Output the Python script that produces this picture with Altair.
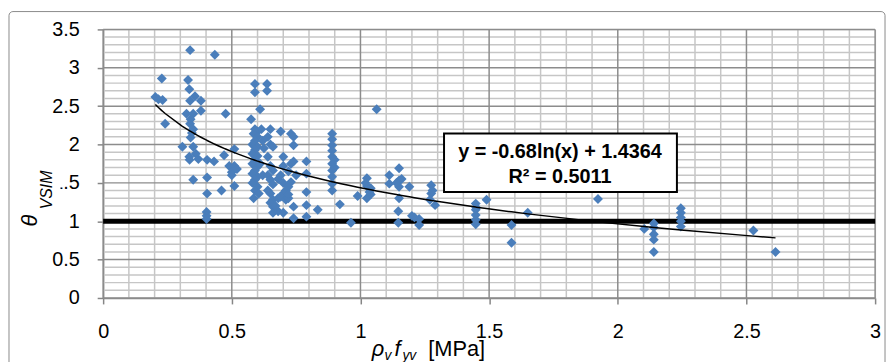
import altair as alt
import pandas as pd

# ---- data ----
X_VALS = [
    0.203, 0.215, 0.228, 0.231, 0.241,
    0.308, 0.324, 0.338, 0.330, 0.335, 0.338, 0.357, 0.380, 0.380, 0.350, 0.338, 0.350, 0.340,
    0.350, 0.335, 0.336, 0.370, 0.350, 0.345, 0.340, 0.360,
    0.404, 0.404, 0.404, 0.402, 0.402, 0.402, 0.431, 0.434, 0.460, 0.476, 0.470, 0.490, 0.510,
    0.500, 0.510, 0.510, 0.500, 0.520,
    0.590, 0.590, 0.610, 0.575, 0.590, 0.600, 0.585, 0.600, 0.590, 0.580, 0.600, 0.590, 0.580,
    0.600, 0.590, 0.580, 0.600, 0.590, 0.580, 0.600, 0.590, 0.580, 0.600, 0.590, 0.585, 0.605,
    0.615, 0.620, 0.625, 0.610, 0.620,
    0.637, 0.637,
    0.650, 0.640, 0.650, 0.660, 0.640, 0.650, 0.660, 0.640, 0.650, 0.660, 0.640, 0.650, 0.660,
    0.650, 0.660, 0.670, 0.660, 0.680, 0.670, 0.680, 0.680,
    0.690, 0.700, 0.700, 0.690, 0.700, 0.710, 0.700, 0.690, 0.710, 0.700, 0.720, 0.720,
    0.730, 0.740, 0.740, 0.730, 0.740, 0.720, 0.730, 0.720, 0.740, 0.740, 0.750,
    0.790, 0.790, 0.790, 0.790, 0.790, 0.834,
    0.890, 0.890, 0.890, 0.890, 0.890, 0.890, 0.890, 0.890, 0.890, 0.890, 0.900, 0.900, 0.920,
    0.963, 0.989, 1.025, 1.025, 1.025, 1.040, 1.040, 1.063, 1.020, 1.035,
    1.112, 1.112, 1.150, 1.150, 1.150, 1.150, 1.147, 1.147, 1.190, 1.200, 1.228, 1.228, 1.160,
    1.140, 1.210,
    1.275, 1.275, 1.270, 1.290, 1.280,
    1.448, 1.448, 1.448, 1.448, 1.448, 1.450,
    1.490, 1.587, 1.587, 1.650, 1.923,
    2.103, 2.140, 2.140, 2.140, 2.140, 2.140,
    2.245, 2.245, 2.245, 2.245, 2.245,
    2.527, 2.613,
]
Y_VALS = [
    2.62, 2.59, 2.86, 2.58, 2.27,
    1.97, 2.40, 3.23, 2.84, 2.72, 2.57, 2.63, 2.57, 2.44, 2.40, 2.27, 2.20, 2.09,
    1.97, 1.84, 1.80, 1.81, 1.54, 2.15, 2.33, 1.88,
    1.80, 1.57, 1.36, 1.12, 1.07, 1.03, 1.78, 3.17, 1.40, 2.40, 1.86, 1.72, 1.72,
    1.64, 1.46, 1.94, 1.60, 1.68,
    2.79, 2.68, 2.46, 2.33, 2.20, 2.17, 2.14, 2.10, 2.05, 2.00, 1.97, 1.93, 1.88,
    1.85, 1.80, 1.75, 1.71, 1.66, 1.62, 1.58, 1.54, 1.50, 1.45, 1.40, 1.30, 1.36,
    2.20, 2.05, 1.95, 1.75, 1.60,
    2.79, 2.70,
    2.20, 2.10, 2.00, 1.97, 1.84, 1.72, 1.66, 1.60, 1.54, 1.48, 1.40, 1.36, 1.28,
    1.24, 1.19, 1.15, 1.11, 1.13, 1.20, 1.30, 1.55,
    2.17, 1.84, 1.72, 1.60, 1.50, 1.40, 1.36, 1.32, 1.28, 1.11, 1.45, 1.30,
    2.14, 2.10, 1.99, 1.75, 1.78, 1.65, 1.51, 1.35, 1.19, 1.04, 1.60,
    1.78, 1.62, 1.38, 1.21, 1.06, 1.15,
    2.14, 2.07, 1.99, 1.92, 1.84, 1.75, 1.66, 1.58, 1.49, 1.40, 1.80, 1.70, 1.22,
    0.98, 1.33, 1.56, 1.46, 1.30, 1.43, 1.35, 2.46, 1.50, 1.38,
    1.60, 1.49, 1.69, 1.53, 1.45, 1.30, 1.13, 0.98, 1.45, 1.07, 1.03, 0.95, 1.55,
    1.50, 1.05,
    1.47, 1.36, 1.28, 1.21, 1.40,
    1.23, 1.15, 1.08, 1.02, 0.96, 1.18,
    1.28, 0.95, 0.72, 1.11, 1.29,
    0.90, 0.97, 0.83, 0.76, 0.60, 0.92,
    1.17, 1.11, 1.05, 1.00, 0.93,
    0.88, 0.60,
]
REF_LINE = [1.0]
TREND_A = -0.68
TREND_B = 1.4364
EQ_LINES = ["y = -0.68ln(x) + 1.4364", "R² = 0.5011"]
X_LABELS = [0, 0.5, 1, 1.5, 2, 2.5, 3]
Y_LABELS = [0, 0.5, 1, 1.5, 2, 2.5, 3, 3.5]
X_GRID = [0.0, 0.1, 0.2, 0.3, 0.4, 0.5, 0.6, 0.7, 0.8, 0.9, 1.0, 1.1, 1.2, 1.3, 1.4, 1.5,
          1.6, 1.7, 1.8, 1.9, 2.0, 2.1, 2.2, 2.3, 2.4, 2.5, 2.6, 2.7, 2.8, 2.9, 3.0]
Y_GRID = [0.0, 0.1, 0.2, 0.3, 0.4, 0.5, 0.6, 0.7, 0.8, 0.9, 1.0, 1.1, 1.2, 1.3, 1.4, 1.5,
          1.6, 1.7, 1.8, 1.9, 2.0, 2.1, 2.2, 2.3, 2.4, 2.5, 2.6, 2.7, 2.8, 2.9, 3.0, 3.1,
          3.2, 3.3, 3.4, 3.5]

df = pd.DataFrame({"x": X_VALS, "y": Y_VALS})
one = pd.DataFrame({"k": [0]})
gx = pd.DataFrame({"g": X_GRID})
gy = pd.DataFrame({"g": Y_GRID})

FONT = "Liberation Sans"
IS_MAJOR = "abs(datum.g*2 - round(datum.g*2)) < 0.001"
IS_MINOR = "abs(datum.g*2 - round(datum.g*2)) >= 0.001"

xscale = alt.Scale(domain=[0, 3], nice=False, zero=False)
yscale = alt.Scale(domain=[0, 3.5], nice=False, zero=False)


def make_axis(vals, pad):
    return alt.Axis(
        values=vals, title=None, format="~g", grid=False,
        labelFontSize=20, labelColor="black", labelFont=FONT, labelPadding=pad,
        labelOverlap=False, labelFlush=False,
        tickSize=6, tickColor="#868686", tickWidth=1.5,
        domainColor="#868686", domainWidth=1.5,
    )


XAXIS = make_axis(X_LABELS, 18)
YAXIS = make_axis(Y_LABELS, 18)

frame = alt.Chart(one).mark_rect(
    fillOpacity=0, stroke="#8a8a8a", strokeWidth=1, cornerRadius=4
).encode(x=alt.value(-95), x2=alt.value(789), y=alt.value(-18), y2=alt.value(380))

vminor = alt.Chart(gx).transform_filter(IS_MINOR).mark_rule(
    color="#c6c6c6", strokeWidth=1.5).encode(x=alt.X("g:Q", scale=xscale, axis=XAXIS))
hminor = alt.Chart(gy).transform_filter(IS_MINOR).mark_rule(
    color="#c6c6c6", strokeWidth=1.5).encode(y=alt.Y("g:Q", scale=yscale, axis=YAXIS))
vmajor = alt.Chart(gx).transform_filter(IS_MAJOR).mark_rule(
    color="#8c8c8c", strokeWidth=1.5).encode(x=alt.X("g:Q", scale=xscale, axis=XAXIS))
hmajor = alt.Chart(gy).transform_filter(IS_MAJOR).mark_rule(
    color="#8c8c8c", strokeWidth=1.5).encode(y=alt.Y("g:Q", scale=yscale, axis=YAXIS))

ref = alt.Chart(pd.DataFrame({"y": REF_LINE})).mark_rule(
    color="black", strokeWidth=5
).encode(y=alt.Y("y:Q", scale=yscale, axis=YAXIS))

points = alt.Chart(df).mark_point(
    shape="diamond", filled=True, size=100, color="#4A7EBB", opacity=1
).encode(
    x=alt.X("x:Q", scale=xscale, axis=XAXIS),
    y=alt.Y("y:Q", scale=yscale, axis=YAXIS),
)

trend = alt.Chart(df).transform_calculate(
    t=f"{TREND_A}*log(datum.x) + {TREND_B}"
).mark_line(color="black", strokeWidth=1.5).encode(
    x=alt.X("x:Q", scale=xscale, axis=XAXIS),
    y=alt.Y("t:Q", scale=yscale, axis=YAXIS),
    order="x:Q",
)

box = alt.Chart(one).mark_rect(
    fill="white", stroke="black", strokeWidth=2
).encode(x=alt.value(344), x2=alt.value(579), y=alt.value(105), y2=alt.value(164))

eq1 = alt.Chart(one).mark_text(
    text=EQ_LINES[0], font=FONT, fontSize=20, fontWeight="bold", align="center",
    baseline="middle", color="black"
).encode(x=alt.value(461), y=alt.value(124))
eq2 = alt.Chart(one).mark_text(
    text=EQ_LINES[1], font=FONT, fontSize=20, fontWeight="bold", align="center",
    baseline="middle", color="black"
).encode(x=alt.value(461), y=alt.value(149))


def txt(s, x, y, size, style="normal", angle=0, align="left"):
    return alt.Chart(one).mark_text(
        text=s, font=FONT, fontSize=size, fontStyle=style, align=align,
        baseline="alphabetic", color="black", angle=angle
    ).encode(x=alt.value(x), y=alt.value(y))


xt = [
    txt("ρ", 271, 330, 22, "italic"),
    txt("v", 284, 334, 14, "italic"),
    txt("f", 294, 330, 22, "italic"),
    txt("yv", 302, 334, 14, "italic"),
    txt("[MPa]", 328, 330, 22),
]

cover = alt.Chart(one).mark_rect(fill="white").encode(
    x=alt.value(-65), x2=alt.value(-43), y=alt.value(141), y2=alt.value(183)
)
yt = [
    txt("θ", -67, 193, 22, "italic", angle=270, align="center"),
    txt("VSIM", -52, 162, 16, "italic", angle=270, align="center"),
]

chart = alt.layer(
    frame, vminor, hminor, vmajor, hmajor, ref, points, trend, box, eq1, eq2,
    *xt, cover, *yt
).properties(
    width=779, height=271,
    autosize=alt.AutoSizeParams(type="none"),
    padding={"left": 96, "top": 20, "right": 13, "bottom": 63},
).configure_view(strokeWidth=0).configure(font=FONT)

chart.save("out.html", embed_options={"renderer": "svg", "actions": False})
